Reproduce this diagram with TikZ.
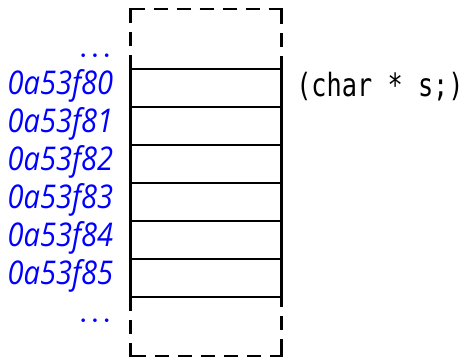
\documentclass[tikz,border=0pt]{standalone}
\usepackage{fontspec}
\usetikzlibrary{calc}
\newfontfamily\addrfont{Open Sans}[FakeStretch=0.89]
\newfontfamily\codefont{DejaVu Sans Mono}[FakeStretch=0.79]
\begin{document}
\begin{tikzpicture}[x=0.75pt,y=-0.75pt,
  cell/.style={draw=black,line width=1.6pt,minimum width=151*0.75pt,minimum height=38*0.75pt,inner sep=0pt,outer sep=0pt},
  gap/.style={draw=black,line width=1.6pt,line cap=butt,line join=miter,
    dash pattern=on 10.5pt off 6.75pt on 10.5pt off 6.75pt on 21pt off 6.75pt
      on 10.5pt off 6.75pt on 10.5pt off 6.75pt on 10.5pt off 6.75pt on 10.5pt off 6.75pt on 10.5pt off 6.75pt
      on 21pt off 6.75pt on 10.5pt off 6.75pt on 10.5pt off 6.75pt},
  addr/.style={text=blue,font=\addrfont\itshape\fontsize{24.5}{28}\selectfont,inner sep=0pt,anchor=base east},
  dots/.style={text=blue,font=\fontsize{19}{23}\selectfont\boldmath,inner sep=0pt,anchor=base},
  code/.style={font=\codefont\fontsize{24}{28}\selectfont,inner sep=0pt,anchor=base west}]
\useasboundingbox (0,0) rectangle (469,359);
\foreach \i/\a in {0/0a53f80,1/0a53f81,2/0a53f82,3/0a53f83,4/0a53f84,5/0a53f85}{
  \node[cell,anchor=north west] (r\i) at (130.5,69.3+38*\i) {};
  \node[addr] (l\i) at ($(r\i.south west)+(-17,-12.6)$) {\a};
}
\coordinate (ttl) at (130.5,9.3);
\coordinate (ttr) at (281.5,9.3);
\coordinate (bbl) at (130.5,355.7);
\coordinate (bbr) at (281.5,355.7);
\draw[gap] (r0.north west) -- (ttl) -- (ttr) -- (r0.north east);
\draw[gap] (r5.south west) -- (bbl) -- (bbr) -- (r5.south east);
\node[dots] (dtop) at (95,62) {$\cdots$};
\node[dots] (dbot) at (95,326.5) {$\cdots$};
\node[code] (c0) at ($(r0.south east)+(14.5,-10.8)$) {(char * s;)};
\end{tikzpicture}
\end{document}
